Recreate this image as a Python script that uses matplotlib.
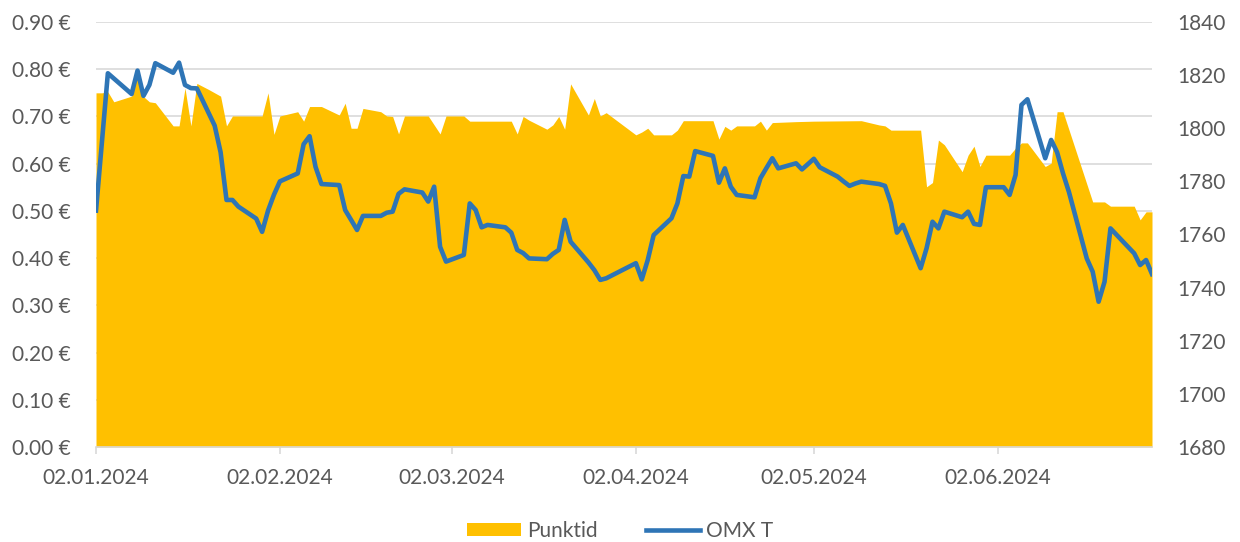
import matplotlib
matplotlib.use("Agg")
import matplotlib.pyplot as plt
from matplotlib.patches import Patch
from matplotlib.lines import Line2D
import pandas as pd

# ---------------- data ----------------
punktid_dates = [
    "2024-01-02", "2024-01-03", "2024-01-04", "2024-01-05", "2024-01-08", "2024-01-09",
    "2024-01-10", "2024-01-11", "2024-01-12", "2024-01-15", "2024-01-16", "2024-01-17",
    "2024-01-18", "2024-01-19", "2024-01-21", "2024-01-23", "2024-01-24", "2024-01-25",
    "2024-01-30", "2024-01-31", "2024-02-01", "2024-02-02", "2024-02-05", "2024-02-06",
    "2024-02-07", "2024-02-09", "2024-02-12", "2024-02-13", "2024-02-14", "2024-02-15",
    "2024-02-16", "2024-02-19", "2024-02-20", "2024-02-21", "2024-02-22", "2024-02-23",
    "2024-02-27", "2024-02-29", "2024-03-01", "2024-03-04", "2024-03-05", "2024-03-12",
    "2024-03-13", "2024-03-14", "2024-03-15", "2024-03-18", "2024-03-19", "2024-03-20",
    "2024-03-21", "2024-03-22", "2024-03-25", "2024-03-26", "2024-03-27", "2024-03-28",
    "2024-04-02", "2024-04-03", "2024-04-04", "2024-04-05", "2024-04-08", "2024-04-09",
    "2024-04-10", "2024-04-15", "2024-04-16", "2024-04-17", "2024-04-18", "2024-04-19",
    "2024-04-22", "2024-04-23", "2024-04-24", "2024-04-25", "2024-04-29", "2024-05-02",
    "2024-05-10", "2024-05-13", "2024-05-14", "2024-05-15", "2024-05-20", "2024-05-21",
    "2024-05-22", "2024-05-23", "2024-05-24", "2024-05-27", "2024-05-28", "2024-05-29",
    "2024-05-30", "2024-05-31", "2024-06-04", "2024-06-05", "2024-06-06", "2024-06-07",
    "2024-06-10", "2024-06-11", "2024-06-12", "2024-06-13", "2024-06-18", "2024-06-20",
    "2024-06-21", "2024-06-25", "2024-06-26", "2024-06-27", "2024-06-28",
]
punktid_values = [
    0.750, 0.750, 0.752, 0.731, 0.743, 0.791,
    0.742, 0.731, 0.729, 0.680, 0.680, 0.760,
    0.680, 0.770, 0.757, 0.743, 0.680, 0.701,
    0.701, 0.750, 0.662, 0.701, 0.710, 0.690,
    0.721, 0.721, 0.703, 0.728, 0.675, 0.675,
    0.717, 0.710, 0.701, 0.700, 0.663, 0.701,
    0.701, 0.663, 0.701, 0.701, 0.690, 0.690,
    0.663, 0.700, 0.692, 0.673, 0.682, 0.700,
    0.673, 0.769, 0.703, 0.738, 0.701, 0.708,
    0.661, 0.667, 0.675, 0.661, 0.661, 0.671,
    0.691, 0.691, 0.652, 0.679, 0.671, 0.680,
    0.680, 0.690, 0.671, 0.687, 0.689, 0.690,
    0.691, 0.682, 0.680, 0.671, 0.671, 0.551,
    0.560, 0.650, 0.640, 0.583, 0.618, 0.637,
    0.594, 0.618, 0.618, 0.633, 0.644, 0.644,
    0.594, 0.601, 0.710, 0.710, 0.519, 0.519,
    0.510, 0.510, 0.481, 0.498, 0.498,
]

omx_dates = [
    "2024-01-02", "2024-01-04", "2024-01-08", "2024-01-09", "2024-01-10", "2024-01-11",
    "2024-01-12", "2024-01-15", "2024-01-16", "2024-01-17", "2024-01-18", "2024-01-19",
    "2024-01-22", "2024-01-23", "2024-01-24", "2024-01-25", "2024-01-26", "2024-01-29",
    "2024-01-30", "2024-01-31", "2024-02-01", "2024-02-02", "2024-02-05", "2024-02-06",
    "2024-02-07", "2024-02-08", "2024-02-09", "2024-02-12", "2024-02-13", "2024-02-14",
    "2024-02-15", "2024-02-16", "2024-02-19", "2024-02-20", "2024-02-21", "2024-02-22",
    "2024-02-23", "2024-02-26", "2024-02-27", "2024-02-28", "2024-02-29", "2024-03-01",
    "2024-03-04", "2024-03-05", "2024-03-06", "2024-03-07", "2024-03-08", "2024-03-11",
    "2024-03-12", "2024-03-13", "2024-03-14", "2024-03-15", "2024-03-18", "2024-03-19",
    "2024-03-20", "2024-03-21", "2024-03-22", "2024-03-25", "2024-03-26", "2024-03-27",
    "2024-03-28", "2024-04-02", "2024-04-03", "2024-04-04", "2024-04-05", "2024-04-08",
    "2024-04-09", "2024-04-10", "2024-04-11", "2024-04-12", "2024-04-15", "2024-04-16",
    "2024-04-17", "2024-04-18", "2024-04-19", "2024-04-22", "2024-04-23", "2024-04-24",
    "2024-04-25", "2024-04-26", "2024-04-29", "2024-04-30", "2024-05-02", "2024-05-03",
    "2024-05-06", "2024-05-07", "2024-05-08", "2024-05-09", "2024-05-10", "2024-05-13",
    "2024-05-14", "2024-05-15", "2024-05-16", "2024-05-17", "2024-05-20", "2024-05-21",
    "2024-05-22", "2024-05-23", "2024-05-24", "2024-05-27", "2024-05-28", "2024-05-29",
    "2024-05-30", "2024-05-31", "2024-06-03", "2024-06-04", "2024-06-05", "2024-06-06",
    "2024-06-07", "2024-06-10", "2024-06-11", "2024-06-12", "2024-06-13", "2024-06-14",
    "2024-06-17", "2024-06-18", "2024-06-19", "2024-06-20", "2024-06-21", "2024-06-25",
    "2024-06-26", "2024-06-27", "2024-06-28",
]
omx_values = [
    1769.0, 1820.7, 1812.9, 1821.7, 1812.2, 1816.3,
    1824.5, 1820.9, 1824.7, 1816.3, 1815.1, 1815.0,
    1801.0, 1791.0, 1773.0, 1773.0, 1770.5, 1766.0,
    1761.0, 1769.0, 1775.0, 1780.0, 1783.0, 1794.0,
    1797.0, 1785.5, 1779.0, 1778.6, 1769.2, 1765.5,
    1761.7, 1767.0, 1767.0, 1768.2, 1768.6, 1775.3,
    1777.0, 1775.8, 1772.4, 1778.0, 1755.4, 1749.8,
    1752.3, 1771.7, 1769.2, 1762.7, 1763.6, 1762.7,
    1760.7, 1754.2, 1753.0, 1751.0, 1750.7, 1752.7,
    1754.2, 1765.5, 1757.3, 1749.5, 1746.6, 1742.9,
    1743.5, 1749.2, 1743.1, 1750.4, 1759.8, 1766.1,
    1771.7, 1782.0, 1781.8, 1791.4, 1789.6, 1779.5,
    1784.9, 1778.0, 1774.9, 1774.0, 1781.2, 1785.0,
    1788.7, 1784.9, 1786.8, 1784.5, 1788.5, 1785.3,
    1781.8, 1780.0, 1778.3, 1779.2, 1779.9, 1779.0,
    1778.3, 1771.7, 1760.7, 1763.6, 1747.3, 1754.8,
    1764.8, 1762.3, 1768.6, 1766.5, 1768.6, 1764.0,
    1763.6, 1777.8, 1777.8, 1774.9, 1782.4, 1808.8,
    1810.9, 1788.7, 1795.6, 1791.0, 1783.0, 1776.0,
    1751.0, 1746.0, 1734.7, 1742.2, 1762.3, 1752.9,
    1748.5, 1750.4, 1745.1,
]

tick_dates = ["2024-01-02", "2024-02-02", "2024-03-02", "2024-04-02", "2024-05-02", "2024-06-02"]
left_ticks = [0.0, 0.1, 0.2, 0.3, 0.4, 0.5, 0.6, 0.7, 0.8, 0.9]
right_ticks = [1680, 1700, 1720, 1740, 1760, 1780, 1800, 1820, 1840]

series_names = ["Punktid", "OMX T"]

# ---------------- style ----------------
YELLOW = "#FFC000"
BLUE = "#2E75B6"
TEXT = "#595959"
GRID = "#D9D9D9"
plt.rcParams["font.family"] = ["Lato", "DejaVu Sans"]
FS = 15

pd_dates = pd.to_datetime(punktid_dates)
om_dates = pd.to_datetime(omx_dates)

fig = plt.figure(figsize=(12.4, 5.42), dpi=100)
ax = fig.add_axes([96 / 1240, 1 - 447 / 542, (1152 - 96) / 1240, (447 - 22) / 542])
ax2 = ax.twinx()

ax.fill_between(pd_dates, punktid_values, 0, color=YELLOW, lw=0, zorder=2)
ax2.plot(om_dates, omx_values, color=BLUE, lw=3.3, solid_joinstyle="round", zorder=3)

ax.set_xlim(pd.Timestamp("2024-01-02"), pd.Timestamp("2024-06-28"))
ax.set_ylim(0, 0.9)
ax2.set_ylim(1680, 1840)

ax.set_yticks(left_ticks)
ax.set_yticklabels([f"{v:.2f} €" for v in left_ticks])
ax2.set_yticks(right_ticks)
ax2.set_yticklabels([str(v) for v in right_ticks])

xt = pd.to_datetime(tick_dates)
ax.set_xticks(xt)
ax.set_xticklabels([d.strftime("%d.%m.%Y") for d in xt])

ax.grid(axis="y", color=GRID, lw=1.2, zorder=0)
ax.set_axisbelow(True)

for a in (ax, ax2):
    for s in a.spines.values():
        s.set_visible(False)
ax.spines["bottom"].set_visible(True)
ax.spines["bottom"].set_color(GRID)
ax.spines["bottom"].set_linewidth(1.2)
ax.spines["bottom"].set_zorder(4)

ax.tick_params(axis="y", length=0, pad=18, labelsize=FS, labelcolor=TEXT)
ax2.tick_params(axis="y", length=0, pad=18, labelsize=FS, labelcolor=TEXT)
ax.tick_params(axis="x", length=5, width=1.2, color=GRID, pad=10, labelsize=FS, labelcolor=TEXT)

handles = [Patch(facecolor=YELLOW, edgecolor="none"), Line2D([0], [0], color=BLUE, lw=3.3)]
fig.legend(handles, series_names, loc="center", bbox_to_anchor=(620 / 1240, 1 - 531 / 542),
           ncol=2, frameon=False, fontsize=FS, labelcolor=TEXT, handlelength=2.6,
           handleheight=0.6, columnspacing=2.3, handletextpad=0.3)

fig.savefig("out.png", dpi=100)
